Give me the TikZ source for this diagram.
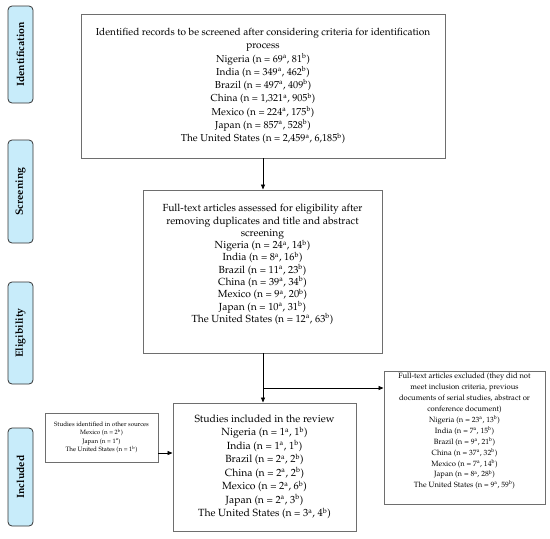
\documentclass[tikz,border=0pt]{standalone}
\usepackage[T1]{fontenc}
\renewcommand{\rmdefault}{ppl}
\usetikzlibrary{arrows.meta}
\definecolor{labfill}{RGB}{200,236,250}
\definecolor{boxline}{RGB}{110,110,110}
\newcommand{\supA}{\textsuperscript{a}}
\newcommand{\supB}{\textsuperscript{b}}
\tikzset{
  mainbox/.style={draw=boxline, line width=0.9pt, fill=white, align=center, inner sep=2pt},
  sidelabel/.style={draw=black!80, line width=0.8pt, fill=labfill, rounded corners=4pt,
     minimum width=25pt, font=\fontsize{10.5}{12}\selectfont\bfseries, inner sep=0pt},
  flow/.style={-{Triangle[length=5pt,width=4pt]}, line width=0.8pt, black}
}
\begin{document}
\begin{tikzpicture}[x=1pt,y=-1pt]
\useasboundingbox (0,0) rectangle (550,539);
% side labels
\node[sidelabel, minimum height=97pt] (lid) at (20.5,54.5) {\rotatebox{90}{Identification}};
\node[sidelabel, minimum height=103pt] (lsc) at (20.5,191.5) {\rotatebox{90}{Screening}};
\node[sidelabel, minimum height=102pt] (lel) at (20.5,333) {\rotatebox{90}{Eligibility}};
\node[sidelabel, minimum height=98pt] (lin) at (20.5,477) {\rotatebox{90}{Included}};
% main boxes
\node[mainbox, minimum width=364pt, minimum height=144pt, font=\fontsize{10.1}{13.3}\selectfont] (ident) at (263,86)
 {Identified records to be screened after considering criteria for identification\\
  process\\
  Nigeria (n = 69\supA, 81\supB)\\
  India (n = 349\supA, 462\supB)\\
  Brazil (n = 497\supA, 409\supB)\\
  China (n = 1,321\supA, 905\supB)\\
  Mexico (n = 224\supA, 175\supB)\\
  Japan (n = 857\supA, 528\supB)\\
  The United States (n = 2,459\supA, 6,185\supB)};
\node[mainbox, minimum width=239pt, minimum height=163pt, font=\fontsize{10.3}{12.3}\selectfont] (full) at (262.5,271.5)
 {Full-text articles assessed for eligibility after\\
  removing duplicates and title and abstract\\
  screening\\
  Nigeria (n = 24\supA, 14\supB)\\
  India (n = 8\supA, 16\supB)\\
  Brazil (n = 11\supA, 23\supB)\\
  China (n = 39\supA, 34\supB)\\
  Mexico (n = 9\supA, 20\supB)\\
  Japan (n = 10\supA, 31\supB)\\
  The United States (n = 12\supA, 63\supB)\\[4pt]};
\node[mainbox, minimum width=161pt, minimum height=130pt, font=\fontsize{7.6}{10.9}\selectfont] (excl) at (464.5,438)
 {Full-text articles excluded (they did not\\
  meet inclusion criteria, previous\\
  documents of serial studies, abstract or\\
  conference document)\\
  Nigeria (n = 23\supA, 13\supB)\\
  India (n = 7\supA, 15\supB)\\
  Brazil (n = 9\supA, 21\supB)\\
  China (n = 37\supA, 32\supB)\\
  Mexico (n = 7\supA, 14\supB)\\
  Japan (n = 8\supA, 28\supB)\\
  The United States (n = 9\supA, 59\supB)\\[4pt]};
\node[mainbox, minimum width=113pt, minimum height=49pt, font=\fontsize{6.3}{8.3}\selectfont] (other) at (101.5,437.5)
 {Studies identified in other sources\\
  Mexico (n = 2\supB)\\
  Japan (n = 1\supA)\\
  The United States (n = 1\supB)};
\node[mainbox, minimum width=183pt, minimum height=128pt, font=\fontsize{10.4}{13.5}\selectfont] (incl) at (264.5,467)
 {Studies included in the review\\
  Nigeria (n = 1\supA, 1\supB)\\
  India (n = 1\supA, 1\supB)\\
  Brazil (n = 2\supA, 2\supB)\\
  China (n = 2\supA, 2\supB)\\
  Mexico (n = 2\supA, 6\supB)\\
  Japan (n = 2\supA, 3\supB)\\
  The United States (n = 3\supA, 4\supB)};
% connectors
\coordinate (j) at (263,388);
\coordinate (o) at (158,453);
\draw[flow] (ident.south -| j) -- (full.north -| j);
\draw[flow] (full.south -| j) -- (incl.north -| j);
\draw[flow] (j) -- (j -| excl.west);
\draw[flow] (o -| other.east) -- (o -| incl.west);
\end{tikzpicture}
\end{document}
